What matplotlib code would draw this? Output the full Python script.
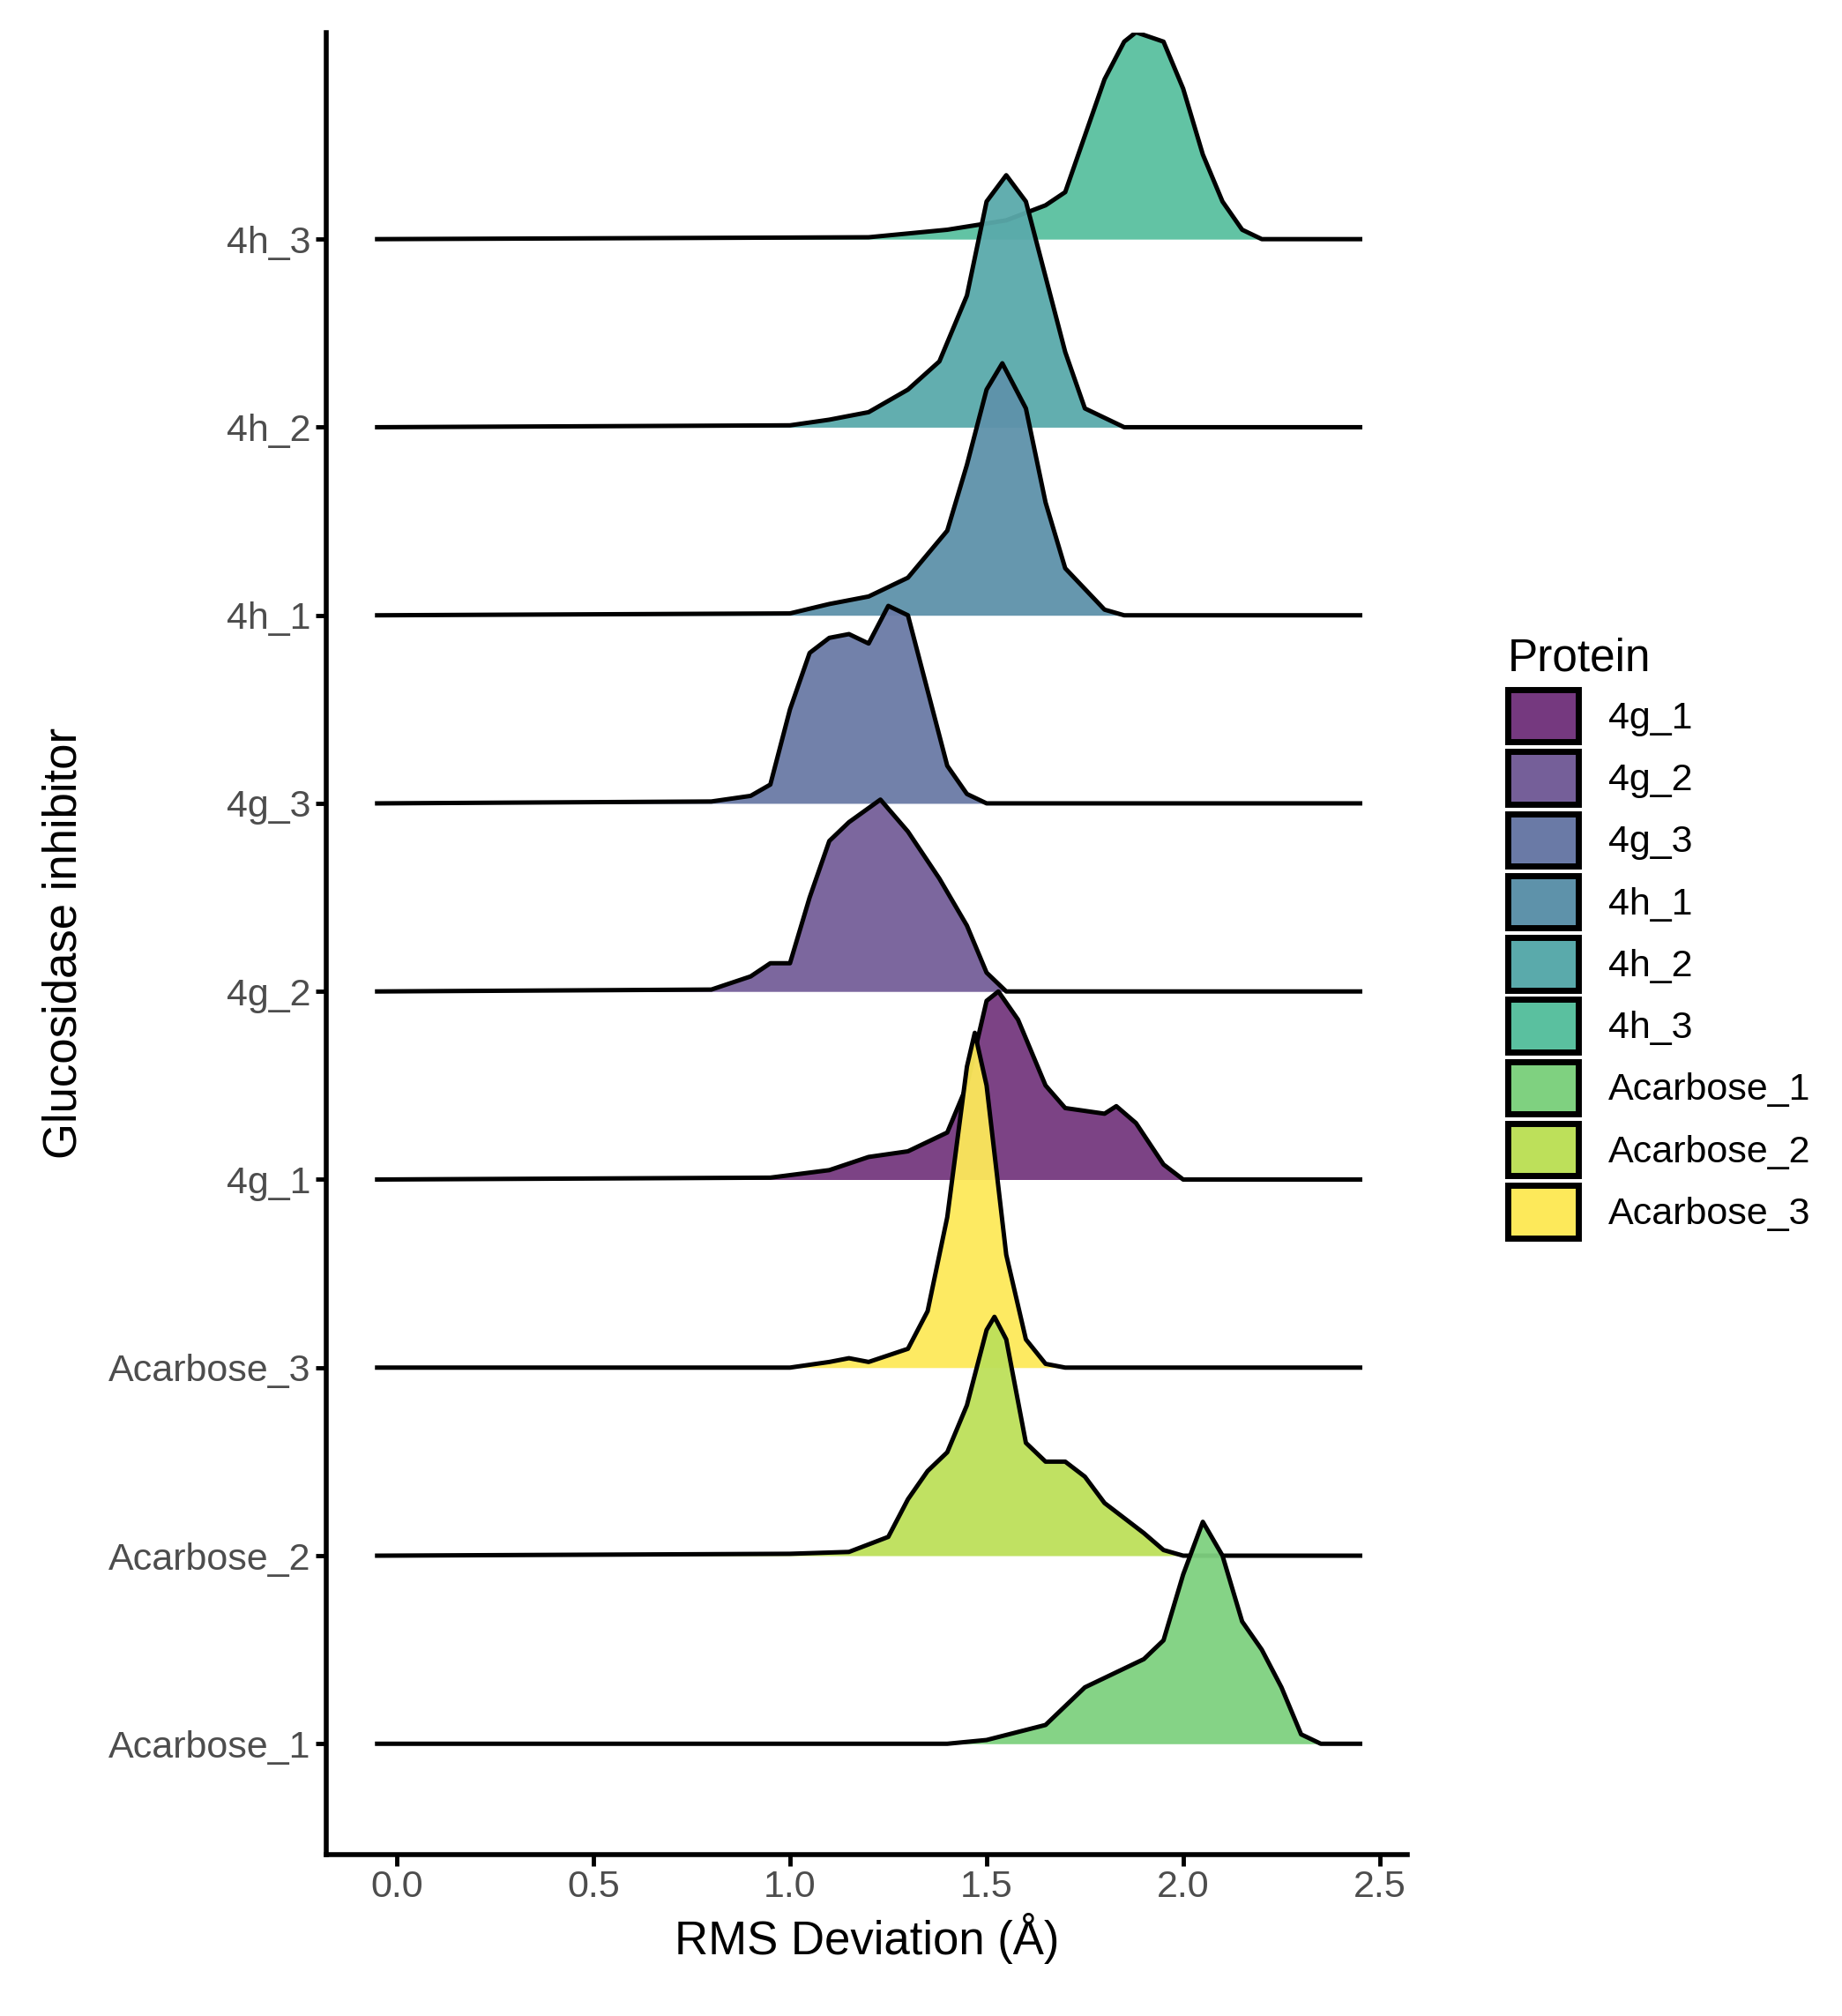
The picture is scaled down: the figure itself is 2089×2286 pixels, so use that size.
import matplotlib
matplotlib.use("Agg")
import matplotlib.pyplot as plt
from matplotlib.patches import Patch
import numpy as np

plt.rcParams["font.family"] = "Liberation Sans"

categories = ["Acarbose_1", "Acarbose_2", "Acarbose_3", "4g_1", "4g_2", "4g_3", "4h_1", "4h_2", "4h_3"]
colors = {"4g_1": "#75397f", "4g_2": "#755f99", "4g_3": "#6a7aa6", "4h_1": "#5e92aa",
          "4h_2": "#5aaaab", "4h_3": "#5ac09f", "Acarbose_1": "#7fd180",
          "Acarbose_2": "#bde05a", "Acarbose_3": "#fde95a"}

acarbose_1_x = [1.4, 1.5, 1.65, 1.75, 1.8, 1.9, 1.95, 2.0, 2.05, 2.1, 2.15, 2.2, 2.25, 2.3, 2.35]
acarbose_1_h = [0.0, 0.02, 0.1, 0.3, 0.35, 0.45, 0.55, 0.9, 1.18, 1.0, 0.65, 0.5, 0.3, 0.05, 0.0]
acarbose_2_x = [1.0, 1.15, 1.25, 1.3, 1.35, 1.4, 1.45, 1.5, 1.52, 1.55, 1.6, 1.65, 1.7, 1.75, 1.8, 1.9, 1.95, 2.0]
acarbose_2_h = [0.01, 0.02, 0.1, 0.3, 0.45, 0.55, 0.8, 1.2, 1.27, 1.15, 0.6, 0.5, 0.5, 0.42, 0.28, 0.12, 0.03, 0.0]
acarbose_3_x = [1.0, 1.1, 1.15, 1.2, 1.3, 1.35, 1.4, 1.45, 1.47, 1.5, 1.55, 1.6, 1.65, 1.7]
acarbose_3_h = [0.0, 0.03, 0.05, 0.03, 0.1, 0.3, 0.8, 1.6, 1.78, 1.5, 0.6, 0.15, 0.02, 0.0]
g4_1_x = [0.95, 1.1, 1.2, 1.3, 1.4, 1.45, 1.5, 1.53, 1.58, 1.65, 1.7, 1.8, 1.83, 1.88, 1.95, 2.0]
g4_1_h = [0.01, 0.05, 0.12, 0.15, 0.25, 0.5, 0.95, 1.0, 0.85, 0.5, 0.38, 0.35, 0.39, 0.3, 0.08, 0.0]
g4_2_x = [0.8, 0.9, 0.95, 1.0, 1.05, 1.1, 1.15, 1.23, 1.3, 1.38, 1.45, 1.5, 1.55]
g4_2_h = [0.01, 0.08, 0.15, 0.15, 0.5, 0.8, 0.9, 1.02, 0.85, 0.6, 0.35, 0.1, 0.0]
g4_3_x = [0.8, 0.9, 0.95, 1.0, 1.05, 1.1, 1.15, 1.2, 1.25, 1.3, 1.35, 1.4, 1.45, 1.5]
g4_3_h = [0.01, 0.04, 0.1, 0.5, 0.8, 0.88, 0.9, 0.85, 1.05, 1.0, 0.6, 0.2, 0.05, 0.0]
h4_1_x = [1.0, 1.1, 1.2, 1.3, 1.4, 1.45, 1.5, 1.54, 1.6, 1.65, 1.7, 1.8, 1.85]
h4_1_h = [0.01, 0.06, 0.1, 0.2, 0.45, 0.8, 1.2, 1.34, 1.1, 0.6, 0.25, 0.03, 0.0]
h4_2_x = [1.0, 1.1, 1.2, 1.3, 1.38, 1.45, 1.5, 1.55, 1.6, 1.65, 1.7, 1.75, 1.85]
h4_2_h = [0.01, 0.04, 0.08, 0.2, 0.35, 0.7, 1.2, 1.34, 1.2, 0.8, 0.4, 0.1, 0.0]
h4_3_x = [1.2, 1.4, 1.55, 1.65, 1.7, 1.75, 1.8, 1.85, 1.88, 1.95, 2.0, 2.05, 2.1, 2.15, 2.2]
h4_3_h = [0.01, 0.05, 0.1, 0.18, 0.25, 0.55, 0.85, 1.05, 1.1, 1.05, 0.8, 0.45, 0.2, 0.05, 0.0]

curves = {"Acarbose_1": (acarbose_1_x, acarbose_1_h), "Acarbose_2": (acarbose_2_x, acarbose_2_h),
          "Acarbose_3": (acarbose_3_x, acarbose_3_h), "4g_1": (g4_1_x, g4_1_h),
          "4g_2": (g4_2_x, g4_2_h), "4g_3": (g4_3_x, g4_3_h), "4h_1": (h4_1_x, h4_1_h),
          "4h_2": (h4_2_x, h4_2_h), "4h_3": (h4_3_x, h4_3_h)}

fig = plt.figure(figsize=(20.89, 22.86), dpi=100)
ax = fig.add_axes([0.177, 0.08, 0.587, 0.904])

for i in range(len(categories) - 1, -1, -1):
    cat = categories[i]
    xs, hs = curves[cat]
    xs = [-0.05] + list(xs) + [2.45]
    hs = [0.0] + list(hs) + [0.0]
    ys = [i + h for h in hs]
    z = 10 - i
    ax.fill_between(xs, i, ys, color=colors[cat], alpha=0.95, lw=0, zorder=z)
    ax.plot(xs, ys, color="black", lw=3.6, zorder=z + 0.5, solid_joinstyle="round")

ax.set_xlim(-0.18, 2.57)
ax.set_ylim(-0.59, 9.1)
ax.set_yticks(range(len(categories)))
ax.set_yticklabels(categories)
ax.set_xticks([0, 0.5, 1.0, 1.5, 2.0, 2.5])
ax.set_xticklabels(["0.0", "0.5", "1.0", "1.5", "2.0", "2.5"])
ax.tick_params(labelsize=31, labelcolor="#4d4d4d", length=9, width=3.5)
for s in ["top", "right"]:
    ax.spines[s].set_visible(False)
for s in ["left", "bottom"]:
    ax.spines[s].set_linewidth(4)
ax.set_xlabel("RMS Deviation (Å)", fontsize=38, labelpad=6)
ax.set_ylabel("Glucosidase inhibitor", fontsize=38, labelpad=18)

leg_order = ["4g_1", "4g_2", "4g_3", "4h_1", "4h_2", "4h_3", "Acarbose_1", "Acarbose_2", "Acarbose_3"]
handles = [Patch(facecolor=colors[c], edgecolor="black", linewidth=5) for c in leg_order]
leg = fig.legend(handles, leg_order, loc="center left", bbox_to_anchor=(0.8, 0.535),
                 frameon=False, fontsize=31, title="Protein", title_fontsize=37,
                 handlelength=1.85, handleheight=1.75, labelspacing=0.25, handletextpad=0.8)
leg._legend_box.align = "left"

fig.savefig("out.png", dpi=100)
